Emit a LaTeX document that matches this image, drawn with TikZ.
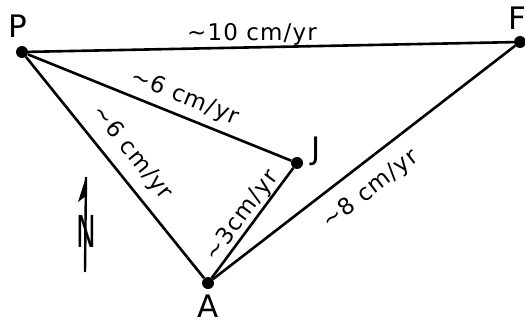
\documentclass[tikz,border=0pt]{standalone}
\usepackage{fontspec}
\setmainfont{DejaVu Sans}
\newfontfamily\lab[LetterSpace=5]{DejaVu Sans}
\begin{document}
\begin{tikzpicture}[x=1pt,y=-1pt,
  dot/.style={circle,fill=black,inner sep=0pt,minimum size=12pt},
  seg/.style={line width=2.6pt},
  vel/.style={font=\lab\fontsize{23}{23}\selectfont,inner sep=0pt},
  nm/.style={font=\fontsize{31}{31}\selectfont,inner sep=0pt}]
\useasboundingbox (0,0) rectangle (525,324);
% plates
\node[dot] (P) at (22,52) {};
\node[dot] (F) at (520,42) {};
\node[dot] (J) at (297,163) {};
\node[dot] (A) at (208,283) {};
\node[nm] (Pl) at (18,26) {P};
\node[nm] (Fl) at (517,18) {F};
\node[nm] (Jl) at (316,151) {J};
\node[nm] (Al) at (208,306) {A};
% connectors
\draw[seg] (P) -- (F);
\draw[seg] (P) -- (J);
\draw[seg] (P) -- (A);
\draw[seg] (A) -- (J);
\draw[seg] (A) -- (F);
% velocity labels
\node[vel] (vPF) at (252,34) {∼10 cm/yr};
\node[vel,rotate=-22] (vPJ) at (185,98) {∼6 cm/yr};
\node[vel,rotate=-51.2] (vPA) at (132,153) {∼6 cm/yr};
\node[vel,rotate=53.4] (vAJ) at (242,216) {∼3cm/yr};
\node[vel,rotate=37.7] (vAF) at (371,190) {∼8 cm/yr};
% north arrow
\coordinate (nt) at (86,177);
\coordinate (nb) at (85,272);
\coordinate (nbarb) at (78,202);
\coordinate (nin) at (86,196);
\draw[line width=2.4pt] (nt) -- (nb);
\fill (nt) -- (nbarb) -- (nin) -- cycle;
\node[inner sep=0pt,font=\fontsize{44}{44}\selectfont] (N) at (86,231) {\scalebox{0.6}[1]{N}};
\end{tikzpicture}
\end{document}
